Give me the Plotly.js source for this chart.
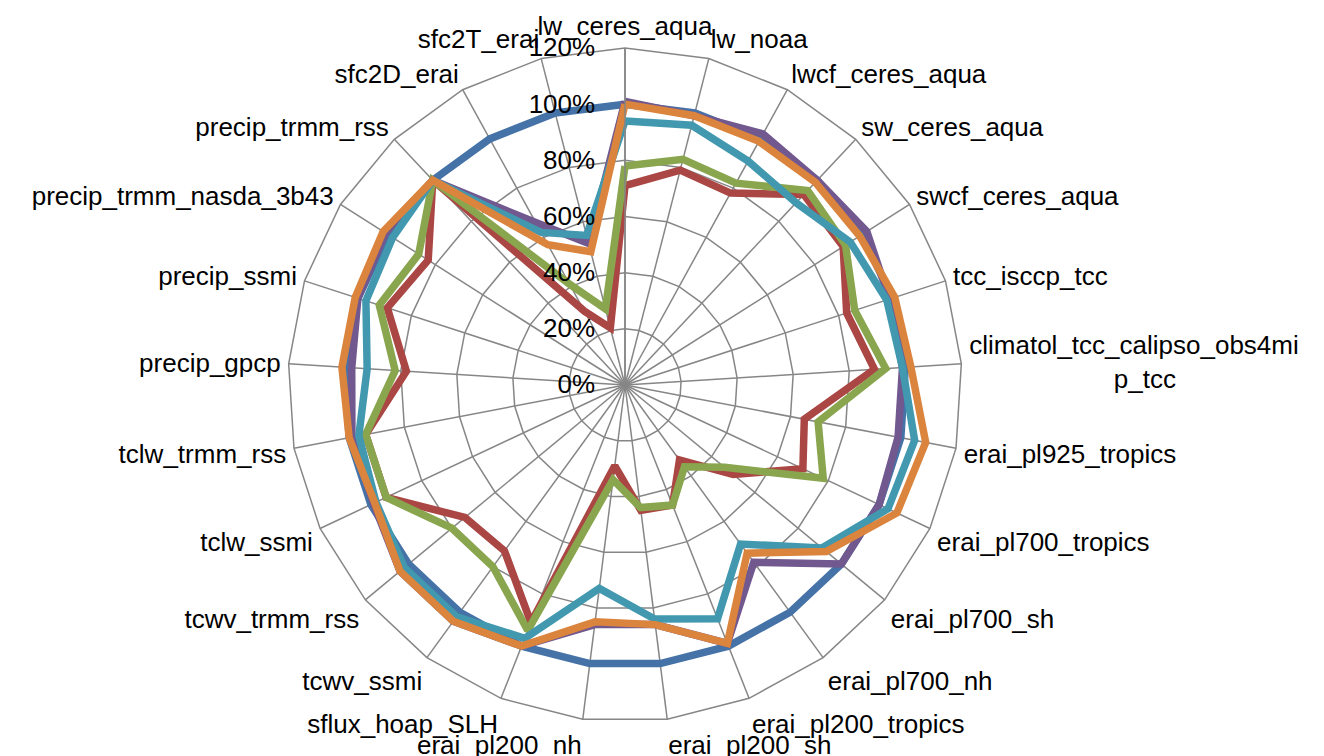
<!DOCTYPE html>
<html>
<head>
<meta charset="utf-8">
<script src="https://cdn.plot.ly/plotly-3.0.1.min.js"></script>
<style>html,body{margin:0;padding:0;background:#fff;}#chart{width:1324px;height:756px;}</style>
</head>
<body>
<div id="chart"></div>
<script>
var categories = ["lw_ceres_aqua","lw_noaa","lwcf_ceres_aqua","sw_ceres_aqua","swcf_ceres_aqua","tcc_isccp_tcc","climatol_tcc_calipso_obs4mip_tcc","erai_pl925_tropics","erai_pl700_tropics","erai_pl700_sh","erai_pl700_nh","erai_pl200_tropics","erai_pl200_sh","erai_pl200_nh","sflux_hoap_SLH","tcwv_ssmi","tcwv_trmm_rss","tclw_ssmi","tclw_trmm_rss","precip_gpcp","precip_ssmi","precip_trmm_nasda_3b43","precip_trmm_rss","sfc2D_erai","sfc2T_erai"];
var NB = "\u00A0";
var tickLabels = ["lw_ceres_aqua","lw_noaa","lwcf_ceres_aqua","sw_ceres_aqua","swcf_ceres_aqua","tcc_isccp_tcc","climatol_tcc_calipso_obs4mi<br>" + NB.repeat(20) + "p_tcc","erai_pl925_tropics","erai_pl700_tropics","erai_pl700_sh","erai_pl700_nh","erai_pl200_tropics","erai_pl200_sh","erai_pl200_nh","sflux_hoap_SLH","tcwv_ssmi","tcwv_trmm_rss","tclw_ssmi","tclw_trmm_rss","precip_gpcp","precip_ssmi","precip_trmm_nasda_3b43","precip_trmm_rss","sfc2D_erai","sfc2T_erai"];

var seriesNames = ["series1","series2","series3","series4","series5","series6"];
var seriesColors = ["#4572A7","#AA4643","#89A54E","#71588F","#4198AF","#DB843D"];

var series1 = [1.00,1.00,1.00,1.00,1.00,1.00,1.00,1.00,1.00,1.00,1.00,1.00,1.00,1.00,1.00,1.00,1.00,1.00,1.00,1.00,1.00,1.00,1.00,1.00,1.00];
var series2 = [0.71,0.79,0.78,0.93,0.92,0.83,0.89,0.65,0.70,0.50,0.33,0.46,0.45,0.29,0.91,0.73,0.74,0.94,0.94,0.78,0.89,0.83,1.00,0.30,0.21];
var series3 = [0.78,0.83,0.82,0.95,0.93,0.86,0.93,0.70,0.78,0.46,0.36,0.46,0.44,0.34,0.94,0.80,0.80,0.94,0.94,0.82,0.92,0.87,1.00,0.41,0.28];
var series4 = [1.01,0.99,1.02,1.00,1.02,0.99,0.99,0.99,1.00,1.00,0.78,0.99,0.86,0.86,1.00,1.04,1.04,0.99,0.99,0.975,1.00,1.01,1.00,0.66,0.52];
var series5 = [0.94,0.955,0.91,0.89,0.95,0.98,0.99,1.05,1.035,0.91,0.70,0.895,0.84,0.73,0.97,1.02,1.02,0.98,0.965,0.92,0.97,0.98,1.00,0.62,0.55];
var series6 = [1.00,0.99,0.99,0.99,0.99,1.01,1.02,1.09,1.07,0.93,0.74,0.99,0.86,0.85,1.00,1.04,1.04,0.985,1.00,1.01,1.01,1.02,1.00,0.57,0.49];

var allSeries = [series1,series2,series3,series4,series5,series6];
var radialTicks = [0,0.2,0.4,0.6,0.8,1.0,1.2];
var radialTickText = ["0%","20%","40%","60%","80%","100%","120%"];

var traces = allSeries.map(function(vals, i){
  return {
    type: 'scatterpolar',
    mode: 'lines',
    name: seriesNames[i],
    r: vals.concat([vals[0]]),
    theta: categories.concat([categories[0]]),
    line: {color: seriesColors[i], width: 7.5},
    hoverinfo: 'skip'
  };
});

var gridCol = '#868686';
var fontFam = '"Liberation Sans", Arial, sans-serif';
var layout = {
  width: 1324, height: 756,
  margin: {l:0, r:0, t:0, b:0},
  paper_bgcolor: '#ffffff',
  showlegend: false,
  font: {family: fontFam, color: '#000000', size: 26},
  polar: {
    domain: {x:[0.21752,0.72659], y:[0.04497,0.93651]},
    gridshape: 'linear',
    bgcolor: '#ffffff',
    angularaxis: {
      type: 'category',
      categoryorder: 'array',
      categoryarray: categories,
      tickmode: 'array',
      tickvals: categories,
      ticktext: tickLabels,
      direction: 'clockwise',
      rotation: 90,
      showline: true,
      linecolor: gridCol,
      linewidth: 1.5,
      gridcolor: gridCol,
      gridwidth: 1.5,
      ticks: 'outside',
      ticklen: 2,
      tickcolor: 'rgba(0,0,0,0)',
      tickfont: {family: fontFam, size: 26, color: '#000000'}
    },
    radialaxis: {
      range: [0,1.2],
      tickmode: 'array',
      tickvals: radialTicks,
      ticktext: radialTickText,
      angle: 90,
      tickangle: 90,
      side: 'counterclockwise',
      showline: true,
      linecolor: gridCol,
      linewidth: 1.5,
      gridcolor: gridCol,
      gridwidth: 1.5,
      ticks: 'outside',
      ticklen: 20,
      tickcolor: 'rgba(0,0,0,0)',
      tickfont: {family: fontFam, size: 26, color: '#000000'}
    }
  }
};

Plotly.newPlot('chart', traces, layout, {displayModeBar:false, staticPlot:true});
</script>
</body>
</html>
